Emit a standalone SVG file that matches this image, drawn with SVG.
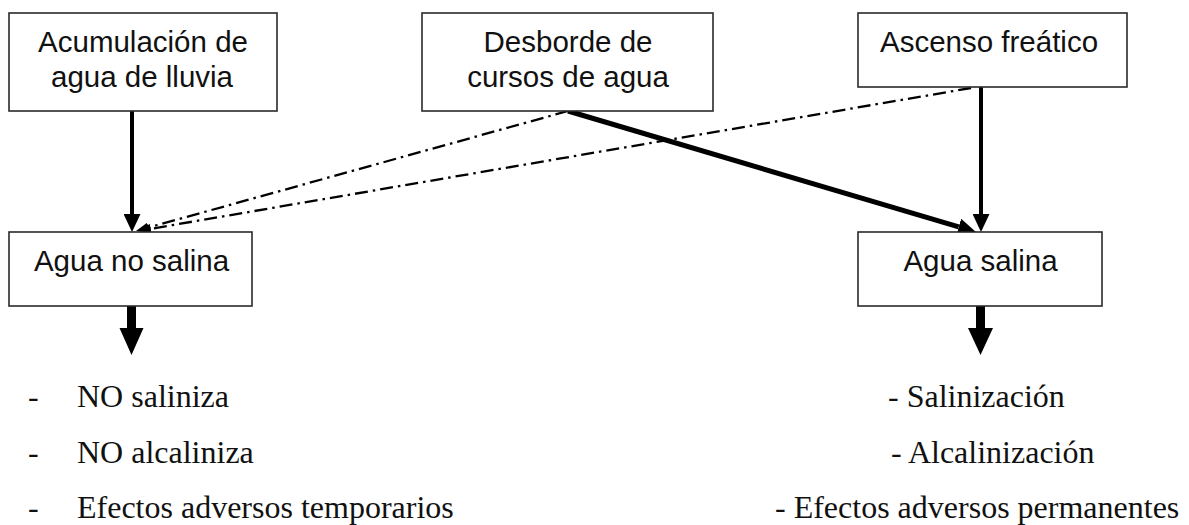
<svg xmlns="http://www.w3.org/2000/svg" width="1189" height="525" viewBox="0 0 1189 525">
<style>
.box{fill:#fff;stroke:#2a2a2a;stroke-width:1.6}
.bt{font-family:"Liberation Sans",Arial,sans-serif;font-size:29.5px;fill:#111;text-anchor:middle}
.lt{font-family:"Liberation Serif","Times New Roman",serif;font-size:32px;fill:#111}
.solid{fill:none;stroke:#000;stroke-width:4}
.thick{fill:none;stroke:#000;stroke-width:5}
.dd{fill:none;stroke:#000;stroke-width:2.3;stroke-dasharray:13 5 2.5 5}
.big{fill:#000}
</style>
<defs>
<marker id="ah" markerUnits="userSpaceOnUse" viewBox="0 0 18 17" refX="0" refY="8.5" markerWidth="18" markerHeight="17" orient="auto">
<path d="M0,0 L18,8.5 L0,17 z" fill="#000"/>
</marker>
<marker id="ahs" markerUnits="userSpaceOnUse" viewBox="0 0 13 10" refX="0" refY="5" markerWidth="13" markerHeight="10" orient="auto">
<path d="M0,0 L13,5 L0,10 z" fill="#000"/>
</marker>
</defs>
<rect width="1189" height="525" fill="#fff"/>
<g id="connectors">
<path class="solid" d="M132,111 L132,214" marker-end="url(#ah)"/>
<path class="solid" d="M981,87 L981,214" marker-end="url(#ah)"/>
<path class="thick" d="M568,111 L958.7,226.9" marker-end="url(#ah)"/>
<path class="dd" d="M568,111 L148.5,227.5" marker-end="url(#ahs)"/>
<path class="dd" d="M971,88 L150.8,228.8" marker-end="url(#ahs)"/>
<path class="big" d="M127,306 L136,306 L136,328 L143.5,328 L131.5,355 L119.5,328 L127,328 z"/>
<path class="big" d="M976,306 L985,306 L985,328 L993,328 L980.5,355 L968,328 L976,328 z"/>
</g>
<g id="n1">
<rect class="box" x="9" y="13" width="268" height="98"/>
<text class="bt" x="143" y="52">Acumulación de</text>
<text class="bt" x="142" y="87">agua de lluvia</text>
</g>
<g id="n2">
<rect class="box" x="422" y="13" width="291" height="98"/>
<text class="bt" x="568" y="52">Desborde de</text>
<text class="bt" x="568" y="87">cursos de agua</text>
</g>
<g id="n3">
<rect class="box" x="858" y="13" width="269" height="74"/>
<text class="bt" x="989" y="52">Ascenso freático</text>
</g>
<g id="n4">
<rect class="box" x="9" y="232" width="243" height="74"/>
<text class="bt" x="131.5" y="271">Agua no salina</text>
</g>
<g id="n5">
<rect class="box" x="858" y="232" width="244" height="74"/>
<text class="bt" x="980.5" y="271">Agua salina</text>
</g>
<g id="effects-left">
<text class="lt" x="28" y="407">-</text>
<text class="lt" x="77" y="407">NO saliniza</text>
<text class="lt" x="28" y="463">-</text>
<text class="lt" x="77" y="463">NO alcaliniza</text>
<text class="lt" x="28" y="518">-</text>
<text class="lt" x="77" y="518">Efectos adversos temporarios</text>
</g>
<g id="effects-right">
<text class="lt" x="888" y="407">- Salinización</text>
<text class="lt" x="891" y="463">- Alcalinización</text>
<text class="lt" x="775" y="518">- Efectos adversos permanentes</text>
</g>
</svg>
